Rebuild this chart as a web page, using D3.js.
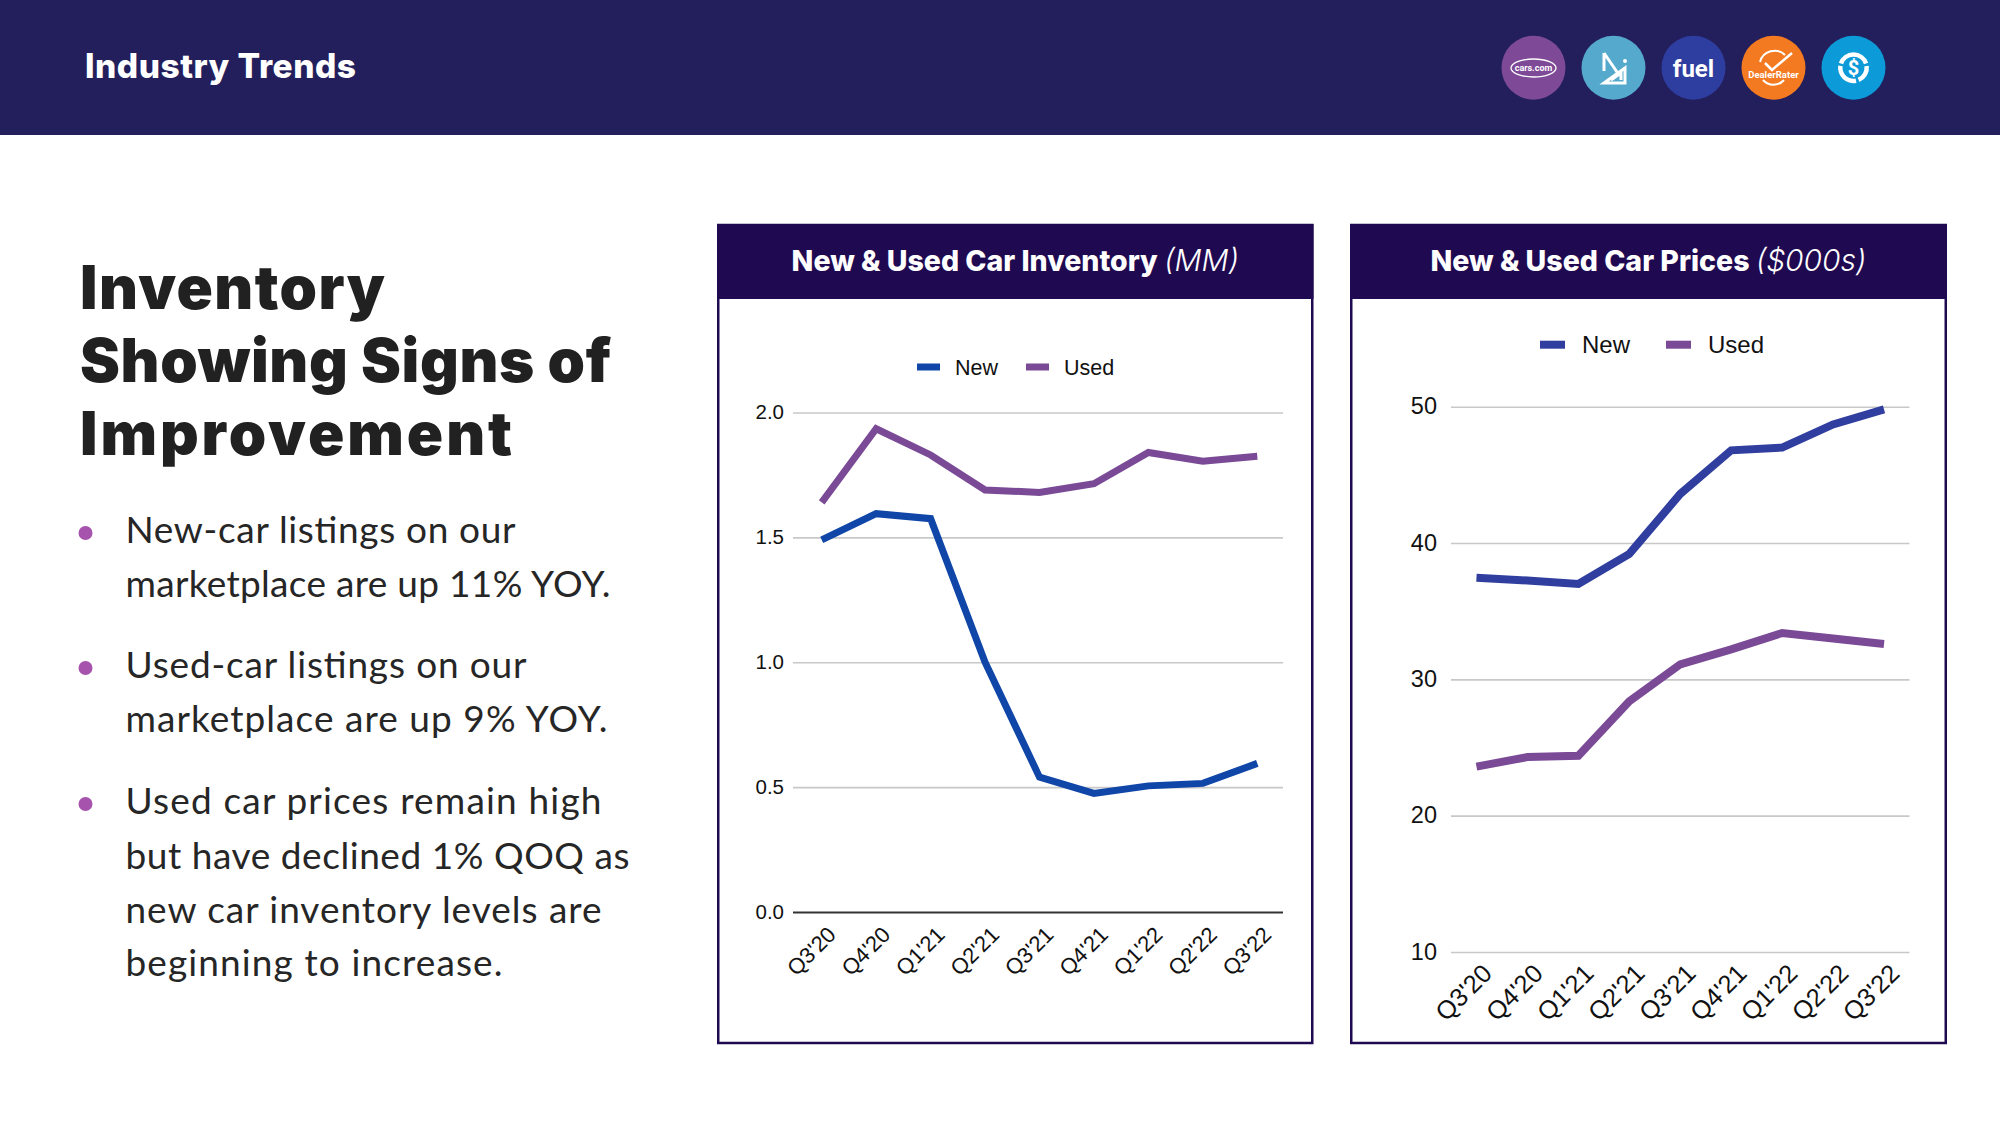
<!DOCTYPE html>
<html><head><meta charset="utf-8">
<script src="https://cdn.jsdelivr.net/npm/d3@7"></script>
<style>html,body{margin:0;padding:0;background:#fff}svg{display:block}</style>
</head><body><svg id="s" width="2000" height="1125"></svg>
<script>
const quarters=["Q3'20","Q4'20","Q1'21","Q2'21","Q3'21","Q4'21","Q1'22","Q2'22","Q3'22"];
const inventoryNew=[1.49,1.595,1.575,1.0,0.54,0.475,0.505,0.515,0.595];
const inventoryUsed=[1.64,1.935,1.83,1.69,1.68,1.715,1.84,1.805,1.825];
const inventoryTicks=[0,0.5,1,1.5,2];
const pricesNew=[37.45,37.25,37.0,39.2,43.6,46.8,47.0,48.7,49.8];
const pricesUsed=[23.6,24.3,24.4,28.4,31.1,32.2,33.4,33.0,32.6];
const priceTicks=[10,20,30,40,50];
const headline=["Inventory","Showing Signs of","Improvement"];
const bullets=[["New-car listings on our","marketplace are up 11% YOY."],["Used-car listings on our","marketplace are up 9% YOY."],["Used car prices remain high","but have declined 1% QOQ as","new car inventory levels are","beginning to increase."]];
const svg=d3.select("#s");
const HEAD="Inter, sans-serif", BODY="Lato, sans-serif", CH="'Liberation Sans', Arial, sans-serif";
svg.append("rect").attr("width",2000).attr("height",135).attr("fill","#231f5c");
svg.append("text").text("Industry Trends").attr("x",85).attr("y",78).attr("fill","#fff").attr("font-family",HEAD).attr("font-weight",800).attr("font-size",33.5).attr("letter-spacing",0.5);

const headW=[305,531,432];
svg.append("g").selectAll("text").data(headline).join("text").text(d=>d).attr("x",80).attr("y",(d,i)=>309+i*73)
 .attr("textLength",(d,i)=>headW[i]).attr("lengthAdjust","spacing")
 .attr("fill","#212121").attr("font-family",HEAD).attr("font-weight",900).attr("font-size",60);
const lineY=[[542.7,597],[678,731.5],[814,869,922.5,976]], dotY=[533,668,804];
const lineW=[[390,485],[401,482],[476,504,476,377]];
bullets.forEach((b,i)=>{
 svg.append("circle").attr("cx",85.5).attr("cy",dotY[i]).attr("r",7).attr("fill","#a653ae");
 b.forEach((t,j)=>svg.append("text").text(t).attr("x",125.5).attr("y",lineY[i][j]).attr("textLength",lineW[i][j]).attr("lengthAdjust","spacing").attr("fill","#262626").attr("font-family",BODY).attr("font-size",37));
});

function chart(o){
 const g=svg.append("g");
 g.append("rect").attr("x",o.px0+1.25).attr("y",225).attr("width",o.px1-o.px0-2.5).attr("height",818).attr("fill","#fff").attr("stroke","#1f0a52").attr("stroke-width",2.5);
 g.append("rect").attr("x",o.px0).attr("y",224).attr("width",o.px1-o.px0).attr("height",75).attr("fill","#1f0a52");
 const t=g.append("text").attr("x",(o.px0+o.px1)/2).attr("y",271).attr("text-anchor","middle").attr("fill","#fff").attr("font-size",28.5);
 t.append("tspan").text(o.title+" ").attr("font-family",HEAD).attr("font-weight",800);
 t.append("tspan").text(o.unit).attr("font-family",HEAD).attr("font-style","italic").attr("font-weight",300).attr("font-size",30);
 const x=d3.scaleBand().domain(quarters).range(o.xr).padding(0);
 const y=d3.scaleLinear().domain(o.dom).range(o.yr);
 const ya=g.append("g").attr("transform",`translate(${o.xr[0]},0)`).call(d3.axisLeft(y).tickValues(o.ticks).tickFormat(o.fmt).tickSize(-(o.xr[1]-o.xr[0])).tickPadding(o.pad));
 ya.select(".domain").remove();
 ya.selectAll("line").attr("stroke",d=>d===0?"#333":"#c8c8c8").attr("stroke-width",d=>d===0?2:1.6);
 ya.selectAll("text").attr("font-family",CH).attr("font-size",o.fs).attr("fill","#111").attr("dy","0.3em");
 const xa=g.append("g").attr("transform",`translate(0,${o.xaxisY})`).call(d3.axisBottom(x).tickSize(0).tickPadding(0));
 xa.select(".domain").remove();
 xa.selectAll("text").attr("font-family",CH).attr("font-size",o.xfs).attr("fill","#111").attr("text-anchor","end")
   .attr("dy",0).attr("y",0).attr("x",0).attr("transform",`translate(${o.lx},${o.ly}) rotate(-45)`);
 const line=d3.line().x((d,i)=>x(quarters[i])+x.bandwidth()/2+o.dx).y(d=>y(d));
 [[o.used,o.cUsed],[o.neu,o.cNew]].forEach(([v,c])=>g.append("path").datum(v).attr("d",line).attr("fill","none").attr("stroke",c).attr("stroke-width",o.lw).attr("stroke-linejoin","miter"));
 o.legend.forEach(l=>{
  g.append("rect").attr("x",l.x).attr("y",o.legY-o.lh/2).attr("width",l.w).attr("height",o.lh).attr("fill",l.name==="New"?o.cNew:o.cUsed);
  g.append("text").text(l.name).attr("x",l.tx).attr("y",o.legY+o.lfs*.36).attr("font-family",CH).attr("font-size",o.lfs).attr("fill","#111");
 });
}
chart({px0:717,px1:1313.5,title:"New & Used Car Inventory",unit:"(MM)",xr:[793,1283],yr:[912,412.5],dom:[0,2],ticks:inventoryTicks,fmt:d3.format(".1f"),pad:9,fs:20.5,xfs:22,lfs:21.5,xaxisY:936,lx:17,ly:0,dx:1.5,lw:7,neu:inventoryNew,used:inventoryUsed,cNew:"#0f46a8",cUsed:"#7a4a96",legY:367,lh:7,legend:[{name:"New",x:917,w:23,tx:955},{name:"Used",x:1026,w:23,tx:1064}]});
chart({px0:1350,px1:1947,title:"New & Used Car Prices",unit:"($000s)",xr:[1451,1909.5],yr:[952,406.7],dom:[10,50],ticks:priceTicks,fmt:d3.format("d"),pad:14,fs:23.5,xfs:25.5,lfs:24,xaxisY:975,lx:17,ly:0,dx:0,lw:8,neu:pricesNew,used:pricesUsed,cNew:"#303f9f",cUsed:"#7a4a96",legY:344.7,lh:8,legend:[{name:"New",x:1540,w:25,tx:1582},{name:"Used",x:1666,w:25,tx:1708}]});

const logo=svg.append("g");
const cs=[[1533.5,"#7e4a97"],[1613.5,"#55a9cc"],[1693.5,"#2e3da0"],[1773.5,"#f47a21"],[1853.5,"#0d9ad9"]];
logo.selectAll("circle").data(cs).join("circle").attr("cx",d=>d[0]).attr("cy",67.7).attr("r",32).attr("fill",d=>d[1]);
logo.append("ellipse").attr("cx",1533.5).attr("cy",68).attr("rx",22.5).attr("ry",9).attr("fill","none").attr("stroke","#fff").attr("stroke-width",1.3);
logo.append("text").text("cars.com").attr("x",1533.5).attr("y",71).attr("text-anchor","middle").attr("fill","#fff").attr("font-family","Roboto").attr("font-weight",700).attr("font-size",9);
logo.append("path").attr("d","M1604 53V71M1604 53L1617 72M1604 83L1625 68V83ZM1611 80L1621 73V80").attr("fill","none").attr("stroke","#fff").attr("stroke-width",3);
logo.append("circle").attr("cx",1625).attr("cy",61).attr("r",2).attr("fill","#fff");
logo.append("text").text("fuel").attr("x",1693.5).attr("y",77).attr("text-anchor","middle").attr("fill","#fff").attr("font-family","Roboto").attr("font-weight",700).attr("font-size",24);
logo.append("path").attr("d","M1760 62A15 15 0 0 1 1785 55M1763 80A14 14 0 0 0 1784 80").attr("fill","none").attr("stroke","#fff").attr("stroke-width",2);
logo.append("path").attr("d","M1765 63L1772 70L1792 53").attr("fill","none").attr("stroke","#fff").attr("stroke-width",2.5);
logo.append("text").text("DealerRater").attr("x",1773.5).attr("y",78).attr("text-anchor","middle").attr("fill","#fff").attr("font-family","Roboto").attr("font-weight",700).attr("font-size",9.5);
const arc=d3.arc().innerRadius(11).outerRadius(15.5);
[[-1.25,1.25],[1.45,2.75],[2.95,4.85]].forEach(a=>logo.append("path").attr("transform","translate(1853.5,67.7)").attr("d",arc({startAngle:a[0],endAngle:a[1]})).attr("fill","#fff"));
logo.append("text").text("$").attr("x",1853.5).attr("y",75).attr("text-anchor","middle").attr("fill","#fff").attr("font-family","Roboto").attr("font-weight",700).attr("font-size",20);
</script></body></html>
